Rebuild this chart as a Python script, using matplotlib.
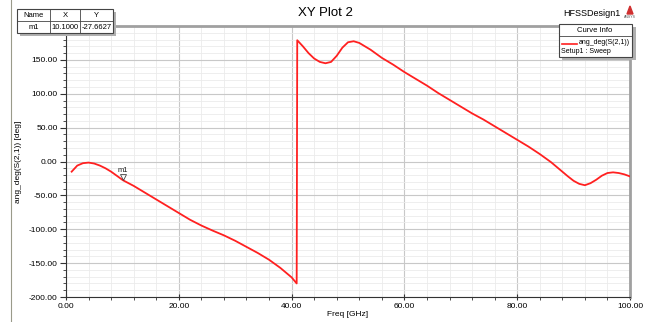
import matplotlib
matplotlib.use("Agg")
import matplotlib.pyplot as plt
from matplotlib.ticker import MultipleLocator, FormatStrFormatter
from matplotlib.patches import Rectangle
from matplotlib.lines import Line2D

plt.rcParams['font.family'] = ['Liberation Sans', 'DejaVu Sans']

freq = [1, 2, 3, 4, 5, 6, 7, 8, 9, 10.1, 12, 14, 16, 18, 20, 22, 24, 26, 28, 30,
        32, 34, 36, 38, 40, 40.9, 41.0, 42, 43, 44, 45, 46, 47, 48, 49, 50, 51,
        52, 54, 56, 58, 60, 62, 64, 66, 68, 70, 72, 74, 76, 78, 80, 82, 84, 85, 86,
        87, 88, 89, 90, 91, 92, 93, 94, 95, 96, 97, 98, 99, 100]
phase = [-15, -6, -2.5, -1.6, -3, -6, -10, -15, -21, -27.66, -36, -46, -56, -66,
         -76, -86, -94.5, -102, -109, -117, -126, -135, -145, -157, -171, -180,
         179, 170, 160, 152, 147, 145, 147, 156, 168, 176, 177.5, 175, 165, 153,
         143, 132, 122, 112, 101, 91, 81, 71, 62, 52, 42, 32, 22, 11, 5, -1, -8, -15,
         -22, -28.5, -33, -35, -32, -27, -21, -17, -16, -17, -19, -22]

marker_name = "m1"
marker_x = 10.1
marker_y = -27.6627

W, H = 645, 322
fig = plt.figure(figsize=(W / 100, H / 100), dpi=100)
ax = fig.add_axes([66 / W, 1 - 297 / H, (630 - 66) / W, (297 - 26) / H])

ax.plot(freq, phase, color='#ff2020', lw=1.3, zorder=3)
ax.set_xlim(0, 100)
ax.set_ylim(-200, 200)

ax.xaxis.set_major_locator(MultipleLocator(20))
ax.xaxis.set_minor_locator(MultipleLocator(4))
ax.yaxis.set_major_locator(MultipleLocator(50))
ax.yaxis.set_minor_locator(MultipleLocator(10))
ax.xaxis.set_major_formatter(FormatStrFormatter('%.2f'))
ax.yaxis.set_major_formatter(FormatStrFormatter('%.2f'))
ax.set_yticks([-200, -150, -100, -50, 0, 50, 100, 150])

ax.grid(which='major', color='#c8c8c8', lw=0.8)
ax.grid(which='minor', color='#ebebeb', lw=0.6)
ax.set_axisbelow(True)

ax.tick_params(axis='both', which='major', labelsize=6, length=4, color='#333333', pad=2)
ax.tick_params(axis='both', which='minor', length=2.5, color='#333333')
ax.tick_params(axis='x', direction='inout')
ax.tick_params(axis='y', direction='out')

for s in ['top', 'right']:
    ax.spines[s].set_color('#a0a0a0')
    ax.spines[s].set_linewidth(2)
for s in ['left', 'bottom']:
    ax.spines[s].set_color('#333333')
    ax.spines[s].set_linewidth(0.8)

ax.set_xlabel('Freq [GHz]', fontsize=6, labelpad=1)
ax.set_ylabel('ang_deg(S(2,1)) [deg]', fontsize=6)
ax.yaxis.set_label_coords((22 - 66) / 564, 0.5)

# marker m1
ax.plot([marker_x], [marker_y + 5], marker='v', ms=4, mfc='none', mec='#444444', mew=0.6, zorder=4)
ax.text(marker_x, marker_y + 9, marker_name, fontsize=5.5, ha='center', va='bottom', color='#222222')

# Title and design name
fig.text(325 / W, 1 - 13 / H, 'XY Plot 2', fontsize=9.5, ha='center', va='center')
fig.text(592 / W, 1 - 13 / H, 'HFSSDesign1', fontsize=6.5, ha='center', va='center')
fig.patches.append(plt.Polygon([[627 / W, 1 - 14 / H], [633 / W, 1 - 14 / H], [630 / W, 1 - 6 / H]],
                               closed=True, transform=fig.transFigure, color='#d03030'))
fig.text(630 / W, 1 - 17 / H, 'ANSYS', fontsize=2.5, ha='center', va='center', color='#555555')

# Marker table (top-left)
def frect(x0, y0, x1, y1, **kw):
    r = Rectangle((x0 / W, 1 - y1 / H), (x1 - x0) / W, (y1 - y0) / H,
                  transform=fig.transFigure, **kw)
    fig.patches.append(r)

frect(20, 12, 116, 36, facecolor='#b0b0b0', edgecolor='none', zorder=1)
frect(17, 9, 113, 33, facecolor='white', edgecolor='#444444', lw=0.8, zorder=2)
for xx in [50, 80]:
    fig.lines.append(Line2D([xx / W, xx / W], [1 - 9 / H, 1 - 33 / H], transform=fig.transFigure,
                            color='#444444', lw=0.6, zorder=3))
fig.lines.append(Line2D([17 / W, 113 / W], [1 - 21 / H, 1 - 21 / H], transform=fig.transFigure,
                        color='#444444', lw=0.6, zorder=3))
hdr = ['Name', 'X', 'Y']
row = [marker_name, f'{marker_x:.4f}', f'{marker_y:.4f}']
cx = [33.5, 65, 96.5]
for c, h, r in zip(cx, hdr, row):
    fig.text(c / W, 1 - 15.5 / H, h, fontsize=5.5, ha='center', va='center', zorder=4)
    fig.text(c / W, 1 - 27.5 / H, r, fontsize=5.5, ha='center', va='center', zorder=4)

# Legend box (top-right)
frect(562, 27, 636, 60, facecolor='#b0b0b0', edgecolor='none', zorder=1)
frect(559, 24, 632, 57, facecolor='white', edgecolor='#444444', lw=0.8, zorder=2)
fig.lines.append(Line2D([559 / W, 632 / W], [1 - 36 / H, 1 - 36 / H], transform=fig.transFigure,
                        color='#444444', lw=0.6, zorder=3))
fig.text(595 / W, 1 - 30 / H, 'Curve Info', fontsize=5.5, ha='center', va='center', zorder=4)
fig.lines.append(Line2D([562 / W, 577 / W], [1 - 44 / H, 1 - 44 / H], transform=fig.transFigure,
                        color='#ff2020', lw=1.2, zorder=4))
fig.text(630 / W, 1 - 43 / H, 'ang_deg(S(2,1))', fontsize=5, ha='right', va='center', zorder=4)
fig.text(561 / W, 1 - 51.5 / H, 'Setup1 : Sweep', fontsize=5, ha='left', va='center', zorder=4)

# outer frame line at left
fig.lines.append(Line2D([11 / W, 11 / W], [0, 1], transform=fig.transFigure, color='#9a9a8a', lw=0.8))

fig.savefig('out.png', dpi=100)
